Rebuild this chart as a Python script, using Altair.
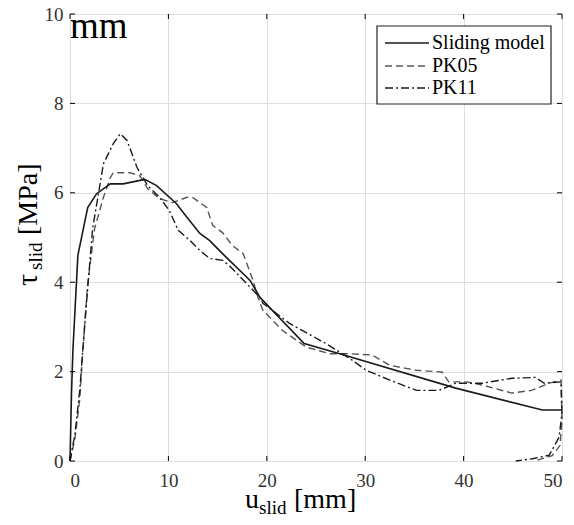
import altair as alt
import pandas as pd

# ---------------- data ----------------
sm_x = [0, 0.15, 0.3, 0.8, 1.8, 2.7, 4.1, 5.4, 7.6, 8.8, 10.8, 11.9, 13.2, 14.2, 15.5,
        18.3, 19.3, 23.8, 27.4, 39.2, 48.0, 50.0]
sm_y = [0, 1.5, 2.5, 4.6, 5.67, 5.98, 6.2, 6.2, 6.3, 6.16, 5.76, 5.45, 5.09, 4.93, 4.64,
        4.04, 3.66, 2.63, 2.4, 1.63, 1.14, 1.14]

pk05_x = [0, 0.5, 1.0, 1.3, 1.8, 2.5, 3.4, 4.1, 4.4, 6.1, 7.1, 7.9, 9.1, 10.4, 11.9, 12.5,
          13.9, 14.5, 15.5, 16.5, 17.6, 18.6, 19.1, 19.6, 21.6, 24.0, 26.4, 28.4, 30.7,
          32.5, 35.2, 37.8, 38.5, 40.3, 41.9, 44.9, 46.9, 48.7, 49.9, 50.0, 49.8, 49.0, 47.5]
pk05_y = [0, 0.5, 1.4, 2.48, 3.97, 5.2, 5.9, 6.34, 6.45, 6.45, 6.38, 6.09, 5.87, 5.78, 5.9,
          5.89, 5.67, 5.27, 5.11, 4.82, 4.64, 4.04, 3.66, 3.37, 2.92, 2.55, 2.4, 2.4, 2.37,
          2.14, 2.03, 1.99, 1.77, 1.77, 1.7, 1.52, 1.58, 1.74, 1.81, 0.9, 0.35, 0.12, 0.02]

pk11_x = [0, 0.5, 1.0, 1.3, 1.7, 2.3, 3.4, 4.4, 5.1, 5.8, 6.8, 7.9, 9.1, 10.1, 11.0, 12.2,
          13.2, 14.2, 15.5, 16.2, 19.3, 19.6, 22.3, 23.6, 26.0, 28.4, 30.1, 32.5, 35.2,
          37.5, 39.2, 41.9, 44.9, 47.3, 48.2, 49.9, 50.0, 49.7, 48.7, 47.0, 45.3]
pk11_y = [0, 0.6, 1.6, 2.48, 3.6, 5.2, 6.65, 7.1, 7.32, 7.17, 6.57, 6.16, 5.9, 5.6, 5.16,
          4.93, 4.71, 4.53, 4.49, 4.37, 3.66, 3.53, 3.08, 2.92, 2.63, 2.3, 2.03, 1.81, 1.58,
          1.58, 1.74, 1.74, 1.85, 1.87, 1.74, 1.77, 1.07, 0.53, 0.13, 0.05, 0.0]

series_names = ["Sliding model", "PK05", "PK11"]
x_ticks = [0, 10, 20, 30, 40, 50]
y_ticks = [0, 2, 4, 6, 8, 10]

W, H = 492, 447
SERIF = "Liberation Serif"


def frame(xs, ys, name):
    return pd.DataFrame({"u": xs, "tau": ys, "series": name, "idx": range(len(xs))})


df_sm = frame(sm_x, sm_y, series_names[0])
df_05 = frame(pk05_x, pk05_y, series_names[1])
df_11 = frame(pk11_x, pk11_y, series_names[2])

xs = alt.Scale(domain=[0, 50], nice=False)
ys = alt.Scale(domain=[0, 10], nice=False)

AX = dict(title=None, grid=True, ticks=False, domain=False, labelFont=SERIF,
          labelFontSize=19, labelColor="#333333", gridColor="#dedede", gridWidth=1)
x_enc = alt.X("u:Q", scale=xs, axis=alt.Axis(values=x_ticks, labelPadding=10, **AX))
y_enc = alt.Y("tau:Q", scale=ys, axis=alt.Axis(values=y_ticks, labelPadding=7, **AX))

DASH = [7, 4]
DASHDOT = [8, 3, 2, 3]

line_sm = alt.Chart(df_sm).mark_line(color="#1a1a1a", strokeWidth=1.6).encode(
    x=x_enc, y=y_enc, order="idx:Q")
line_05 = alt.Chart(df_05).mark_line(color="#555555", strokeWidth=1.4, strokeDash=DASH).encode(
    x="u:Q", y="tau:Q", order="idx:Q")
line_11 = alt.Chart(df_11).mark_line(color="#1a1a1a", strokeWidth=1.4, strokeDash=DASHDOT).encode(
    x="u:Q", y="tau:Q", order="idx:Q")

# inward ticks on all four sides
dfx = pd.DataFrame({"u": x_ticks})
dfy = pd.DataFrame({"tau": y_ticks})
tick_b = alt.Chart(dfx).mark_rule(color="black", strokeWidth=1).encode(
    x="u:Q", y=alt.value(H), y2=alt.value(H - 5))
tick_t = alt.Chart(dfx).mark_rule(color="black", strokeWidth=1).encode(
    x="u:Q", y=alt.value(0), y2=alt.value(5))
tick_l = alt.Chart(dfy).mark_rule(color="black", strokeWidth=1).encode(
    y="tau:Q", x=alt.value(0), x2=alt.value(5))
tick_r = alt.Chart(dfy).mark_rule(color="black", strokeWidth=1).encode(
    y="tau:Q", x=alt.value(W), x2=alt.value(W - 5))


def txt(s, x, y, size, angle=0, align="left", baseline="alphabetic", color="black"):
    kw = dict(text=s, font=SERIF, fontSize=size, align=align, baseline=baseline, color=color)
    if angle:
        kw["angle"] = angle
    return alt.Chart(alt.Data(values=[{}])).mark_text(**kw).encode(
        x=alt.value(x), y=alt.value(y))


# stray "mm" in upper-left corner
mm_text = txt("mm", 0, 24, 37)

# x-axis title: u_slid [mm]
xt_u = txt("u", 175, 494, 28)
xt_s = txt("slid", 189, 500, 19)
xt_b = txt("[mm]", 224, 494, 28)

# y-axis title (rotated): tau_slid [MPa]
yt_t = txt("τ", -33, 272, 30, angle=270)
yt_s = txt("slid", -28, 256, 19, angle=270)
yt_b = txt("[MPa]", -33, 221, 28, angle=270)

# legend box
lx0, ly0, lx1, ly1 = 307, 12, 481, 90
leg_box = alt.Chart(alt.Data(values=[{}])).mark_rect(
    fill="white", stroke="#222222", strokeWidth=1.2).encode(
    x=alt.value(lx0), x2=alt.value(lx1), y=alt.value(ly0), y2=alt.value(ly1))
rows = [29, 52, 74]
sx0, sx1, tx = 315, 359, 362
leg_l1 = alt.Chart(alt.Data(values=[{}])).mark_rule(color="#1a1a1a", strokeWidth=1.6).encode(
    x=alt.value(sx0), x2=alt.value(sx1), y=alt.value(rows[0]))
leg_l2 = alt.Chart(alt.Data(values=[{}])).mark_rule(color="#555555", strokeWidth=1.4,
                                                    strokeDash=DASH).encode(
    x=alt.value(sx0), x2=alt.value(sx1), y=alt.value(rows[1]))
leg_l3 = alt.Chart(alt.Data(values=[{}])).mark_rule(color="#1a1a1a", strokeWidth=1.4,
                                                    strokeDash=DASHDOT).encode(
    x=alt.value(sx0), x2=alt.value(sx1), y=alt.value(rows[2]))
leg_t = [txt(n, tx, r, 20, baseline="middle") for n, r in zip(series_names, rows)]

chart = alt.layer(
    line_05, line_11, line_sm,
    tick_b, tick_t, tick_l, tick_r,
    mm_text,
    xt_u, xt_s, xt_b, yt_t, yt_s, yt_b,
    leg_box, leg_l1, leg_l2, leg_l3, *leg_t,
).properties(
    width=W, height=H,
    autosize=alt.AutoSizeParams(type="none"),
    padding={"left": 62, "top": 6, "right": 4, "bottom": 56},
).configure_view(
    stroke="#111111", strokeWidth=1.5
).configure(background="white")

chart.save("out.html", embed_options={"renderer": "svg", "actions": False})
